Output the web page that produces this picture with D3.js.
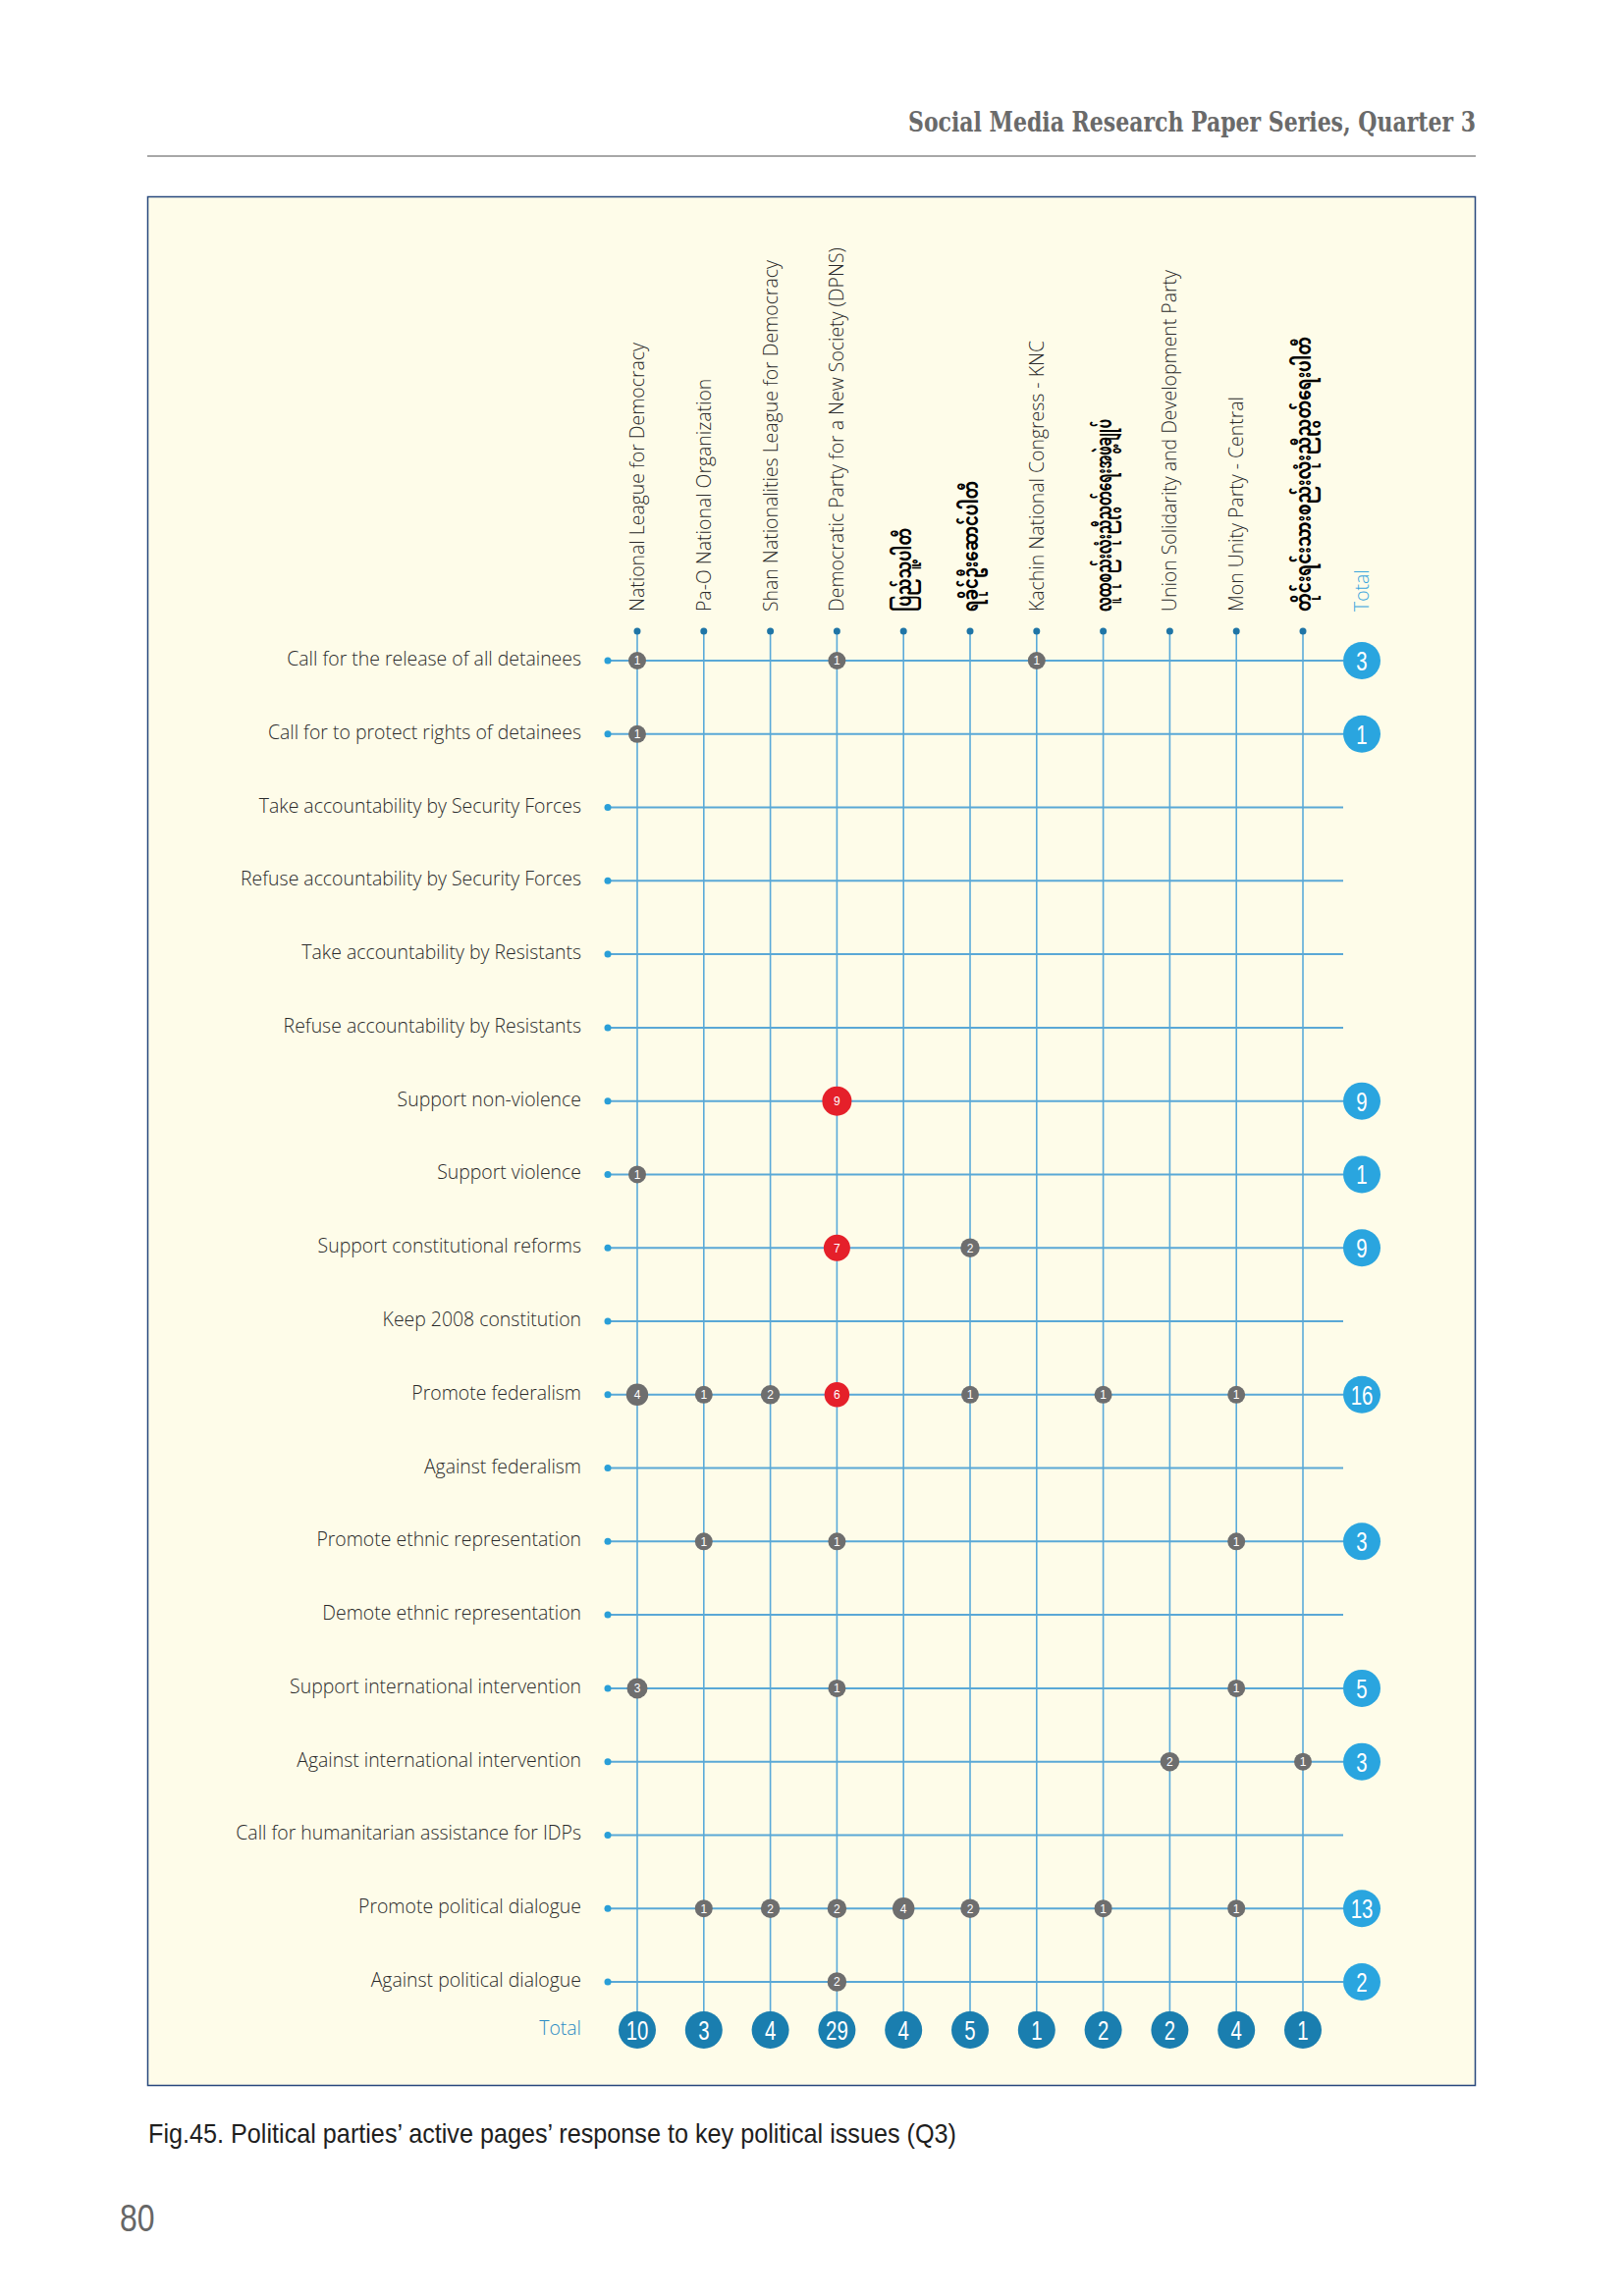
<!DOCTYPE html>
<html>
<head>
<meta charset="utf-8">
<script src="https://cdn.jsdelivr.net/npm/d3@7"></script>
<style>
  body { margin: 0; background: #fff; }
</style>
</head>
<body>
<div id="chart"></div>
<script>
const parties = [
  "National League for Democracy",
  "Pa-O National Organization",
  "Shan Nationalities League for Democracy",
  "Democratic Party for a New Society (DPNS)",
  "ပြည်သူ့ပါတီ",
  "ရခိုင်ဦးဆောင်ပါတီ",
  "Kachin National Congress - KNC",
  "လူထုစည်းလုံးညီညွတ်ရေးအဖွဲ့ချုပ်",
  "Union Solidarity and Development Party",
  "Mon Unity Party - Central",
  "တိုင်းရင်းသားစည်းလုံးညီညွတ်ရေးပါတီ"
];

const issues = [
  "Call for the release of all detainees",
  "Call for to protect rights of detainees",
  "Take accountability by Security Forces",
  "Refuse accountability by Security Forces",
  "Take accountability by Resistants",
  "Refuse accountability by Resistants",
  "Support non-violence",
  "Support violence",
  "Support constitutional reforms",
  "Keep 2008 constitution",
  "Promote federalism",
  "Against federalism",
  "Promote ethnic representation",
  "Demote ethnic representation",
  "Support international intervention",
  "Against international intervention",
  "Call for humanitarian assistance for IDPs",
  "Promote political dialogue",
  "Against political dialogue"
];

// one row per issue, one value per party (same order as parties)
const responses = [
  [1, 0, 0, 1, 0, 0, 1, 0, 0, 0, 0],
  [1, 0, 0, 0, 0, 0, 0, 0, 0, 0, 0],
  [0, 0, 0, 0, 0, 0, 0, 0, 0, 0, 0],
  [0, 0, 0, 0, 0, 0, 0, 0, 0, 0, 0],
  [0, 0, 0, 0, 0, 0, 0, 0, 0, 0, 0],
  [0, 0, 0, 0, 0, 0, 0, 0, 0, 0, 0],
  [0, 0, 0, 9, 0, 0, 0, 0, 0, 0, 0],
  [1, 0, 0, 0, 0, 0, 0, 0, 0, 0, 0],
  [0, 0, 0, 7, 0, 2, 0, 0, 0, 0, 0],
  [0, 0, 0, 0, 0, 0, 0, 0, 0, 0, 0],
  [4, 1, 2, 6, 0, 1, 0, 1, 0, 1, 0],
  [0, 0, 0, 0, 0, 0, 0, 0, 0, 0, 0],
  [0, 1, 0, 1, 0, 0, 0, 0, 0, 1, 0],
  [0, 0, 0, 0, 0, 0, 0, 0, 0, 0, 0],
  [3, 0, 0, 1, 0, 0, 0, 0, 0, 1, 0],
  [0, 0, 0, 0, 0, 0, 0, 0, 2, 0, 1],
  [0, 0, 0, 0, 0, 0, 0, 0, 0, 0, 0],
  [0, 1, 2, 2, 4, 2, 0, 1, 0, 1, 0],
  [0, 0, 0, 2, 0, 0, 0, 0, 0, 0, 0]
];

const highlightFrom = 6;   // counts at or above this are drawn red
const totalLabel = "Total";

const W = 1654, H = 2339;
const svg = d3.select("#chart").append("svg")
  .attr("width", W).attr("height", H)
  .style("display", "block");

const labelFont = "'Open Sans', 'Noto Sans', sans-serif";
const narrowFont = "'Liberation Sans Narrow', 'Liberation Sans', Arial, sans-serif";

// page header
svg.append("text")
  .attr("x", 1503).attr("y", 134)
  .attr("text-anchor", "end")
  .attr("font-family", "'DejaVu Serif Condensed', 'DejaVu Serif', serif")
  .attr("font-weight", "bold")
  .attr("font-size", 27)
  .attr("fill", "#6a6a6a")
  .attr("textLength", 578).attr("lengthAdjust", "spacingAndGlyphs")
  .text("Social Media Research Paper Series, Quarter 3");

svg.append("line")
  .attr("x1", 150).attr("x2", 1503).attr("y1", 159).attr("y2", 159)
  .attr("stroke", "#8a8a8a").attr("stroke-width", 1.5);

// panel
svg.append("rect")
  .attr("x", 150.5).attr("y", 200.5).attr("width", 1352).attr("height", 1924)
  .attr("fill", "#fefce9").attr("stroke", "#27477c").attr("stroke-width", 1.5);

const x = d3.scalePoint().domain(d3.range(parties.length)).range([649, 1327]);
const y = d3.scalePoint().domain(d3.range(issues.length)).range([673, 2019]);
const r = d3.scaleLinear().domain([1, 9]).range([9, 15]);

const totalX = 1387, totalY = 2068;
const headerY = 643, rowDotX = 619, lineEnd = 1368;

const rowTotals = responses.map(row => d3.sum(row));
const colTotals = parties.map((p, j) => d3.sum(responses, row => row[j]));

const g = svg.append("g");

// vertical grid lines
g.selectAll("line.v").data(parties).join("line")
  .attr("class", "v")
  .attr("x1", (d, j) => x(j)).attr("x2", (d, j) => x(j))
  .attr("y1", headerY).attr("y2", totalY)
  .attr("stroke", "#5aaad9").attr("stroke-width", 1.6);

// horizontal grid lines
g.selectAll("line.h").data(issues).join("line")
  .attr("class", "h")
  .attr("x1", rowDotX).attr("x2", lineEnd)
  .attr("y1", (d, i) => y(i)).attr("y2", (d, i) => y(i))
  .attr("stroke", "#5aa8d6").attr("stroke-width", 2);

// dots at line starts
g.selectAll("circle.hd").data(parties).join("circle")
  .attr("cx", (d, j) => x(j)).attr("cy", headerY).attr("r", 3.5)
  .attr("fill", "#1f75a6");
g.selectAll("circle.rd").data(issues).join("circle")
  .attr("cx", rowDotX).attr("cy", (d, i) => y(i)).attr("r", 3.5)
  .attr("fill", "#2a9fd8");

// row labels
const rowLabels = g.selectAll("text.row").data(issues).join("text")
  .attr("class", "row")
  .attr("text-anchor", "end")
  .attr("font-family", labelFont)
  .attr("font-weight", 300)
  .attr("font-size", 21)
  .attr("fill", "#2a2a2a")
  .text(d => d);

// condense the label face to the width seen in the original
const probe = rowLabels.node().getComputedTextLength();
const squeeze = probe > 0 ? 300 / probe : 0.8;

rowLabels.attr("transform", (d, i) => `translate(592,${y(i) + 5}) scale(${squeeze},1)`);

// column headers
const isLatin = s => /^[\x00-\x7F]+$/.test(s);
const burmeseLen = { 4: 85, 5: 133, 7: 196, 10: 280 };

g.selectAll("text.col").data(parties).join("text")
  .attr("class", "col")
  .attr("text-anchor", "start")
  .attr("font-family", d => isLatin(d) ? labelFont : "'Noto Sans Myanmar', 'Myanmar Text', sans-serif")
  .attr("font-weight", d => isLatin(d) ? 300 : "bold")
  .attr("font-size", d => isLatin(d) ? 21 : 22)
  .attr("fill", d => isLatin(d) ? "#2a2a2a" : "#000")
  .each(function(d, j) {
    const t = d3.select(this);
    if (isLatin(d)) {
      t.attr("transform", `translate(${x(j) + 7},623) rotate(-90) scale(${squeeze},1)`);
    } else {
      t.attr("transform", `translate(${x(j) + 8},623) rotate(-90)`)
        .attr("textLength", burmeseLen[j]).attr("lengthAdjust", "spacingAndGlyphs");
    }
  })
  .text(d => d);

// "Total" headers
g.append("text")
  .attr("transform", `translate(${totalX + 7},623) rotate(-90) scale(${squeeze},1)`)
  .attr("font-family", labelFont).attr("font-weight", 300).attr("font-size", 21)
  .attr("fill", "#3aa6de")
  .text(totalLabel);

g.append("text")
  .attr("transform", `translate(592,${totalY + 5}) scale(${squeeze},1)`)
  .attr("text-anchor", "end")
  .attr("font-family", labelFont).attr("font-weight", 300).attr("font-size", 21)
  .attr("fill", "#2b8bc3")
  .text(totalLabel);

// cell bubbles
const cells = [];
responses.forEach((row, i) => row.forEach((v, j) => { if (v > 0) cells.push({ i, j, v }); }));

const cell = g.selectAll("g.cell").data(cells).join("g")
  .attr("class", "cell")
  .attr("transform", d => `translate(${x(d.j)},${y(d.i)})`);
cell.append("circle")
  .attr("r", d => r(d.v))
  .attr("fill", d => d.v >= highlightFrom ? "#e5202a" : "#6e6e6e");
cell.append("text")
  .attr("text-anchor", "middle").attr("dy", "0.36em")
  .attr("font-family", narrowFont).attr("font-size", 12)
  .attr("fill", "#fff")
  .text(d => d.v);

// big total bubbles: tall, thin digits
function totalBubble(sel, fill) {
  sel.append("circle").attr("r", 19).attr("fill", fill);
  sel.append("text")
    .attr("text-anchor", "middle")
    .attr("transform", "translate(0,10) scale(0.85,1.15)")
    .attr("font-family", narrowFont).attr("font-size", 24)
    .attr("fill", "#fff")
    .text(d => d.v);
}

const rt = g.selectAll("g.rt").data(rowTotals.map((v, i) => ({ v, i })).filter(d => d.v > 0)).join("g")
  .attr("class", "rt")
  .attr("transform", d => `translate(${totalX},${y(d.i)})`);
totalBubble(rt, "#2aa5df");

const ct = g.selectAll("g.ct").data(colTotals.map((v, j) => ({ v, j }))).join("g")
  .attr("class", "ct")
  .attr("transform", d => `translate(${x(d.j)},${totalY})`);
totalBubble(ct, "#1a7eaf");

// caption and page number
svg.append("text")
  .attr("x", 151).attr("y", 2183)
  .attr("font-family", narrowFont).attr("font-size", 28)
  .attr("fill", "#1e1e1e")
  .attr("textLength", 823).attr("lengthAdjust", "spacingAndGlyphs")
  .text("Fig.45. Political parties’ active pages’ response to key political issues (Q3)");

svg.append("text")
  .attr("x", 122).attr("y", 2273)
  .attr("transform", "translate(122,2273) scale(1,1.2) translate(-122,-2273)")
  .attr("font-family", narrowFont).attr("font-size", 32)
  .attr("fill", "#666")
  .text("80");
</script>
</body>
</html>
